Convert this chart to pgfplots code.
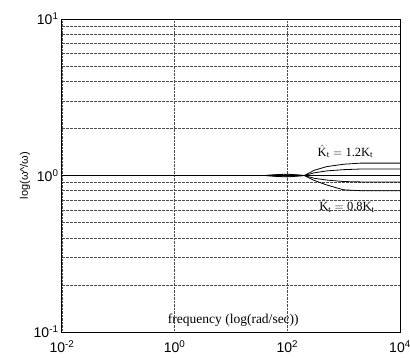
\documentclass[border=0pt]{standalone}
\usepackage{fontspec}
\setmainfont{Liberation Serif}
\setsansfont{Liberation Sans}
\usepackage{amsmath}
\usepackage{pgfplots}
\pgfplotsset{compat=1.18}
\begin{document}
\begin{tikzpicture}
\begin{axis}[
  name=ax,
  scale only axis,
  width=338pt, height=313pt,
  xmode=log, ymode=log,
  xmin=0.01, xmax=10000, ymin=0.1, ymax=10,
  xtick={0.01,1,100,10000},
  xticklabels={10\textsuperscript{-2},10\textsuperscript{0},10\textsuperscript{2},10\textsuperscript{4}},
  ytick={0.1,1,10},
  yticklabels={10\textsuperscript{-1},10\textsuperscript{0},10\textsuperscript{1}},
  minor ytick={0.2,0.3,0.4,0.5,0.6,0.7,0.8,0.9,2,3,4,5,6,7,8,9},
  minor xtick={},
  tick label style={font=\sffamily\fontsize{14}{15}\selectfont},
  xticklabel style={yshift=-5pt},
  xmajorgrids, yminorgrids,
  major grid style={black!70, densely dotted, line width=0.5pt},
  minor grid style={black!70, dash pattern=on 3pt off 1pt, line width=0.5pt},
  tick style={draw=none},
  axis line style={line width=1pt},
  ylabel={log(ω\^{}/ω)},
  ylabel style={font=\sffamily\fontsize{11}{12}\selectfont, at={(rel axis cs:0,0.5)}, anchor=center, yshift=37pt},
  clip=true,
]
\addplot[black, line width=0.8pt] coordinates {(0.01,1) (40,1) (60,1.012) (100,1.02) (150,1.01) (200,1.0) (300,1.08) (500,1.14) (1000,1.18) (2000,1.2) (10000,1.2)};
\addplot[black, line width=0.8pt] coordinates {(0.01,1) (40,1) (60,1.006) (100,1.01) (150,1.005) (200,1.0) (300,1.04) (500,1.07) (1000,1.09) (2000,1.1) (10000,1.1)};
\addplot[black, line width=0.8pt] coordinates {(0.01,1) (40,1) (60,1.0) (100,1.0) (150,1.0) (200,1.0) (300,1.0) (500,1.0) (1000,1.0) (2000,1.0) (10000,1.0)};
\addplot[black, line width=0.8pt] coordinates {(0.01,1) (40,1) (60,0.994) (100,0.99) (150,0.995) (200,1.0) (300,0.96) (500,0.935) (1000,0.915) (2000,0.91) (10000,0.91)};
\addplot[black, line width=0.8pt] coordinates {(0.01,1) (40,1) (60,0.988) (100,0.98) (150,0.99) (200,1.0) (300,0.93) (500,0.87) (1000,0.81) (2000,0.8) (10000,0.8)};
\node[font=\fontsize{12.5}{13}\selectfont, anchor=base west] at (axis cs:300,1.33) {$\hat{\text{K}}_{\text{t}} = \text{1.2K}_{\text{t}}$};
\node[font=\fontsize{12.5}{13}\selectfont, anchor=base west] at (axis cs:320,0.6) {$\hat{\text{K}}_{\text{t}} = \text{0.8K}_{\text{t}}$};
\node[font=\fontsize{13.5}{14}\selectfont, anchor=base] at (axis cs:11,0.113) {frequency (log(rad/sec))};
\end{axis}
\pgfresetboundingbox
\path (ax.south west) ++(-62pt,-25pt) rectangle ([shift={(10pt,19pt)}]ax.north east);
\end{tikzpicture}
\end{document}
